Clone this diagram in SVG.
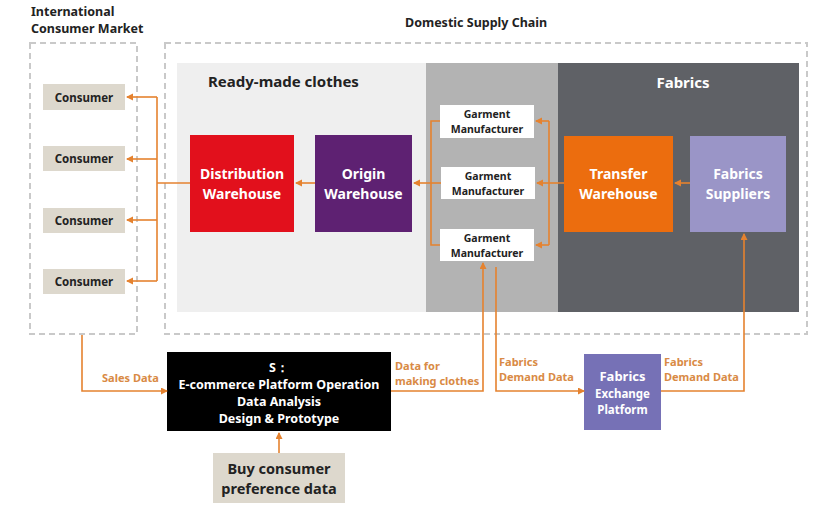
<svg xmlns="http://www.w3.org/2000/svg" width="833" height="509" viewBox="0 0 833 509">
<defs>
<marker id="ah" markerUnits="userSpaceOnUse" markerWidth="8" markerHeight="8" refX="6" refY="3.5" orient="auto">
<path d="M0,0 L7,3.5 L0,7 Z" fill="#E5822F"/>
</marker>
<style>
text{font-family:"Noto Sans","Open Sans","Liberation Sans",sans-serif;font-weight:bold}
.dash{fill:none;stroke:#C9C9C9;stroke-width:2;stroke-dasharray:6 4}
.con{fill:none;stroke:#E5822F;stroke-width:1.6}
.arr{marker-end:url(#ah)}
.lbl{font-size:11px;fill:#D98A45}
.cons rect{fill:#DDD8CD}
.cons text{font-size:11.5px;fill:#222;text-anchor:middle}
.wh{font-size:14px;fill:#fff;text-anchor:middle}
.gm rect{fill:#fff}
.gm text{font-size:10.5px;fill:#222;text-anchor:middle}
.title{font-size:12.5px;fill:#222}
</style>
</defs>
<rect width="833" height="509" fill="#fff"/>

<g id="international-market">
<rect class="dash" x="30" y="43" width="107" height="291"/>
<text class="title" x="31" y="16">International</text>
<text class="title" x="31" y="33">Consumer Market</text>
</g>
<g id="domestic-supply-chain">
<rect class="dash" x="165" y="43" width="642" height="291"/>
<text class="title" x="405" y="27">Domestic Supply Chain</text>
</g>
<g id="ready-made-panel">
<rect x="177" y="63" width="249" height="249" fill="#EFEFEF"/>
<text x="208" y="87" font-size="15" fill="#222">Ready-made clothes</text>
</g>
<g id="garment-panel">
<rect x="426" y="63" width="132" height="249" fill="#B3B3B3"/>
</g>
<g id="fabrics-panel">
<rect x="558" y="63" width="241" height="249" fill="#5F6166"/>
<text x="683" y="88" font-size="15" fill="#fff" text-anchor="middle">Fabrics</text>
</g>

<g id="consumer1" class="cons"><rect x="43" y="84" width="82" height="26"/><text x="84" y="101.5">Consumer</text></g>
<g id="consumer2" class="cons"><rect x="43" y="146" width="82" height="25"/><text x="84" y="163">Consumer</text></g>
<g id="consumer3" class="cons"><rect x="43" y="208" width="82" height="25"/><text x="84" y="225">Consumer</text></g>
<g id="consumer4" class="cons"><rect x="43" y="269" width="82" height="25"/><text x="84" y="286">Consumer</text></g>

<g id="distribution-warehouse">
<rect x="190" y="135" width="104" height="97" fill="#E2101C"/>
<text class="wh" x="242" y="179">Distribution</text>
<text class="wh" x="242" y="198.5">Warehouse</text>
</g>
<g id="origin-warehouse">
<rect x="315" y="135" width="97" height="97" fill="#5E2172"/>
<text class="wh" x="363.5" y="179">Origin</text>
<text class="wh" x="363.5" y="198.5">Warehouse</text>
</g>

<g id="garment1" class="gm"><rect x="440" y="105" width="94" height="33"/><text x="487" y="118">Garment</text><text x="487" y="133">Manufacturer</text></g>
<g id="garment2" class="gm"><rect x="441" y="167" width="94" height="32"/><text x="488" y="180">Garment</text><text x="488" y="195">Manufacturer</text></g>
<g id="garment3" class="gm"><rect x="440" y="229" width="94" height="32"/><text x="487" y="242">Garment</text><text x="487" y="257">Manufacturer</text></g>

<g id="transfer-warehouse">
<rect x="564" y="136" width="109" height="96" fill="#EC6D0E"/>
<text class="wh" x="618.5" y="179">Transfer</text>
<text class="wh" x="618.5" y="198.5">Warehouse</text>
</g>
<g id="fabrics-suppliers">
<rect x="690" y="136" width="96" height="96" fill="#9A95C7"/>
<text class="wh" x="738" y="179">Fabrics</text>
<text class="wh" x="738" y="198.5">Suppliers</text>
</g>

<g id="platform">
<rect x="167" y="352" width="224" height="79" fill="#000"/>
<text x="279" y="372" font-size="12.5" fill="#fff" text-anchor="middle">S：</text>
<text x="279" y="389" font-size="12.5" fill="#fff" text-anchor="middle">E-commerce Platform Operation</text>
<text x="279" y="406" font-size="12.5" fill="#fff" text-anchor="middle">Data Analysis</text>
<text x="279" y="423" font-size="12.5" fill="#fff" text-anchor="middle">Design &amp; Prototype</text>
</g>
<g id="buy-data">
<rect x="213" y="453" width="132" height="50" fill="#DDD8CD"/>
<text x="279" y="474" font-size="14.5" fill="#222" text-anchor="middle">Buy consumer</text>
<text x="279" y="494" font-size="14.5" fill="#222" text-anchor="middle">preference data</text>
</g>
<g id="exchange-platform">
<rect x="584" y="354" width="77" height="76" fill="#7671B6"/>
<text x="622.5" y="381" font-size="13" fill="#fff" text-anchor="middle">Fabrics</text>
<text x="622.5" y="398" font-size="11.5" fill="#fff" text-anchor="middle">Exchange</text>
<text x="622.5" y="414" font-size="11.5" fill="#fff" text-anchor="middle">Platform</text>
</g>

<g id="connectors">
<path class="con" d="M190,183 H157"/>
<path class="con" d="M157,97 V281"/>
<path class="con arr" d="M157,97 H127"/>
<path class="con arr" d="M157,159 H127"/>
<path class="con arr" d="M157,220 H127"/>
<path class="con arr" d="M157,281 H127"/>
<path class="con arr" d="M315,183 H296"/>
<path class="con" d="M440,121 H431 V245 H440"/>
<path class="con arr" d="M441,183 H414"/>
<path class="con" d="M549,121 V245"/>
<path class="con arr" d="M549,121 H536"/>
<path class="con arr" d="M549,245 H536"/>
<path class="con arr" d="M564,183 H537"/>
<path class="con arr" d="M690,183 H675"/>
<path class="con arr" d="M82,335 V391 H167"/>
<path class="con arr" d="M279,453 V433"/>
<path class="con arr" d="M391,391 H483 V263"/>
<path class="con arr" d="M496,267 V391 H584"/>
<path class="con arr" d="M661,391 H744 V234"/>
<text class="lbl" x="102" y="382">Sales Data</text>
<text class="lbl" x="395" y="370">Data for</text>
<text class="lbl" x="395" y="385">making clothes</text>
<text class="lbl" x="499" y="366">Fabrics</text>
<text class="lbl" x="499" y="381">Demand Data</text>
<text class="lbl" x="664" y="366">Fabrics</text>
<text class="lbl" x="664" y="381">Demand Data</text>
</g>
</svg>
